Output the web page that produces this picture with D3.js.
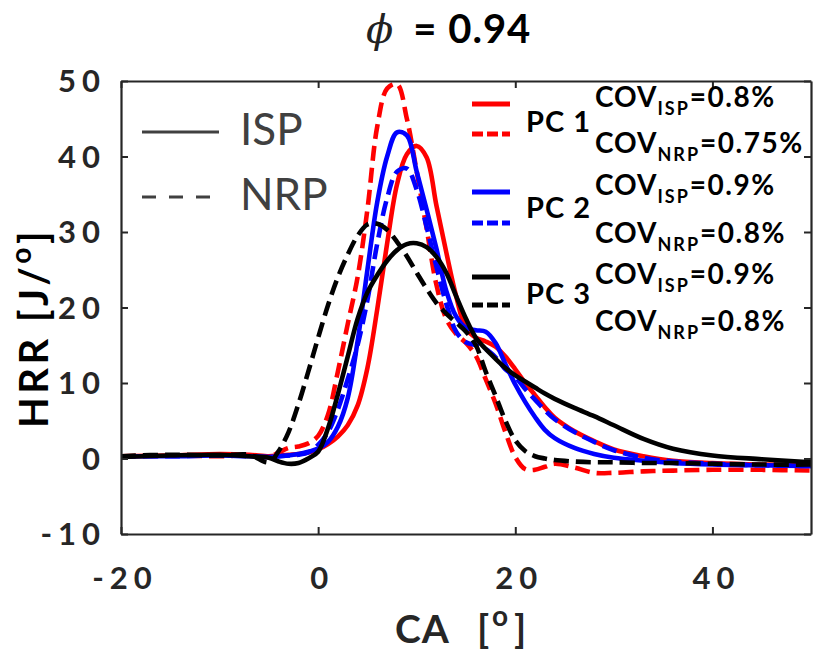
<!DOCTYPE html>
<html>
<head>
<meta charset="utf-8">
<script src="https://cdn.jsdelivr.net/npm/d3@7"></script>
<style>
  html, body { margin: 0; padding: 0; background: #fff; }
  svg { display: block; }
  text { font-family: Lato, "Open Sans", sans-serif; }
</style>
</head>
<body>
<svg id="chart" width="813" height="651"></svg>
<script>
// Crank angle grid [deg] shared by all heat-release curves
const caGrid = [-20, -15, -10, -7, -5, -4, -3, -2, -1, 0, 1, 2, 3, 4, 5, 6, 7, 8, 9, 10,
  11, 12, 13, 14, 15, 16, 17, 18, 19, 20, 21, 22, 23, 24, 26, 28, 30, 33, 36, 40, 45, 50];

// Heat release rate [J/deg], one array per case and strategy
const pc1Isp = [0.3, 0.4, 0.6, 0.5, 0.3, 0.4, 0.5, 0.6, 0.8, 1.2, 1.9, 2.9, 4.4, 7.0, 12.0, 19.8, 28.5, 36.3, 40.3, 41.4,
  39.9, 33.5, 27.3, 21.5, 17.2, 16.0, 15.5, 14.8, 13.5, 11.8, 10.0, 8.4, 6.8, 5.4, 3.6, 2.3, 1.2, 0.3, -0.3, -0.6, -0.8, -0.9];
const pc1Nrp = [0.3, 0.4, 0.3, 0.4, 0.2, 0.8, 1.4, 1.6, 2.0, 3.0, 5.8, 11.5, 17.8, 24, 33, 44, 49, 49.6, 45, 38,
  30.5, 23, 18.5, 16.5, 15.3, 13.6, 10.5, 7.3, 3.5, 0.2, -1.4, -1.5, -1.1, -0.7, -1.2, -1.9, -1.9, -1.7, -1.6, -1.5, -1.5, -1.6];
const pc2Isp = [0.3, 0.3, 0.4, 0.3, 0.2, 0.3, 0.4, 0.6, 0.9, 1.3, 2.2, 4.2, 8, 15.5, 25, 34, 40, 43.2, 42.8, 38,
  33, 27.8, 22.2, 18.8, 17.3, 17.0, 16.8, 15.3, 12.5, 9.8, 7.5, 5.5, 3.8, 2.7, 1.4, 0.6, 0.1, -0.3, -0.6, -0.8, -0.9, -1.0];
const pc2Nrp = [0.3, 0.3, 0.4, 0.3, 0.2, 0.3, 0.4, 0.5, 0.8, 1.8, 3.5, 6.5, 10.5, 15, 21, 28.5, 34.5, 38, 38.4, 35.6,
  30.7, 25.4, 20.5, 16.8, 15.4, 15.0, 14.5, 13.4, 11.8, 10.8, 9.2, 7.8, 6.4, 5.2, 3.5, 2.2, 1.1, 0.1, -0.4, -0.7, -0.9, -1.0];
const pc3Isp = [0.2, 0.4, 0.5, 0.3, 0.1, -0.4, -0.7, -0.6, 0.0, 0.9, 4.0, 8.5, 13.5, 18.5, 22, 24.3, 26.2, 27.6, 28.4, 28.5,
  28, 26.7, 24.6, 21.5, 18.5, 16.0, 14.5, 13.2, 12.0, 11.0, 10.2, 9.4, 8.6, 7.9, 6.7, 5.6, 4.4, 2.6, 1.3, 0.4, -0.1, -0.5];
const pc3Nrp = [0.3, 0.5, 0.4, 0.5, -0.5, 1.0, 3.5, 7.2, 11.5, 16, 20.3, 24, 27, 29.5, 31, 31.1, 30.3, 28.7, 26.8, 24.6,
  22.5, 20.6, 19.2, 18.0, 16.8, 15.0, 11.5, 8.3, 5.0, 2.4, 1.0, 0.3, 0.0, -0.2, -0.4, -0.5, -0.5, -0.6, -0.6, -0.7, -0.8, -0.8];

// Legend text
const caseLabels = ["PC 1", "PC 2", "PC 3"];
const covIsp = ["0.8%", "0.9%", "0.9%"];
const covNrp = ["0.75%", "0.8%", "0.8%"];
const caseColors = ["#ff0000", "#0000ff", "#000000"];

// Axis ticks
const xTicks = [-20, 0, 20, 40];
const yTicks = [-10, 0, 10, 20, 30, 40, 50];

const series = [
  { values: pc1Isp, color: caseColors[0], dashed: false },
  { values: pc1Nrp, color: caseColors[0], dashed: true },
  { values: pc2Isp, color: caseColors[1], dashed: false },
  { values: pc2Nrp, color: caseColors[1], dashed: true },
  { values: pc3Isp, color: caseColors[2], dashed: false },
  { values: pc3Nrp, color: caseColors[2], dashed: true }
];

const svg = d3.select("#chart");
const plot = { left: 121, right: 811, top: 81, bottom: 534 };
const axisColor = "#262626";

const x = d3.scaleLinear().domain([-20, 50]).range([plot.left, plot.right]);
const y = d3.scaleLinear().domain([-10, 50]).range([plot.bottom, plot.top]);

svg.append("defs").append("clipPath").attr("id", "plot-clip")
  .append("rect")
  .attr("x", plot.left).attr("y", plot.top)
  .attr("width", plot.right - plot.left).attr("height", plot.bottom - plot.top);

// Curves
const line = d3.line()
  .x((d, i) => x(caGrid[i]))
  .y(d => y(d))
  .curve(d3.curveCatmullRom.alpha(0.5));

const curves = svg.append("g").attr("clip-path", "url(#plot-clip)");
series.forEach(s => {
  curves.append("path")
    .attr("d", line(s.values))
    .attr("fill", "none")
    .attr("stroke", s.color)
    .attr("stroke-width", 4.6)
    .attr("stroke-linejoin", "round")
    .attr("stroke-dasharray", s.dashed ? "15,7" : null);
});

// Box axes with inward ticks on every side
const tickLen = 7;
const axes = svg.append("g");
const bottomAxis = d3.axisBottom(x).tickValues(xTicks).tickSizeInner(-tickLen).tickSizeOuter(0).tickFormat("");
const topAxis = d3.axisTop(x).tickValues(xTicks).tickSizeInner(-tickLen).tickSizeOuter(0).tickFormat("");
const leftAxis = d3.axisLeft(y).tickValues(yTicks).tickSizeInner(-tickLen).tickSizeOuter(0).tickFormat("");
const rightAxis = d3.axisRight(y).tickValues(yTicks).tickSizeInner(-tickLen).tickSizeOuter(0).tickFormat("");

axes.append("g").attr("transform", `translate(0,${plot.bottom})`).call(bottomAxis);
axes.append("g").attr("transform", `translate(0,${plot.top})`).call(topAxis);
axes.append("g").attr("transform", `translate(${plot.left},0)`).call(leftAxis);
axes.append("g").attr("transform", `translate(${plot.right},0)`).call(rightAxis);
axes.selectAll("path.domain").attr("stroke", axisColor).attr("stroke-width", 2.2);
axes.selectAll(".tick line").attr("stroke", axisColor).attr("stroke-width", 2);

// Tick labels (tracked digits)
const tickFont = { size: 31, weight: 700, spacing: 6 };
svg.append("g").selectAll("text").data(yTicks).join("text")
  .attr("x", 106)
  .attr("y", d => y(d) + 11)
  .attr("text-anchor", "end")
  .attr("font-size", tickFont.size)
  .attr("font-weight", tickFont.weight)
  .attr("letter-spacing", tickFont.spacing)
  .attr("fill", axisColor)
  .text(d => d);

svg.append("g").selectAll("text").data(xTicks).join("text")
  .attr("x", d => x(d) + 4)
  .attr("y", 589)
  .attr("text-anchor", "middle")
  .attr("font-size", tickFont.size)
  .attr("font-weight", tickFont.weight)
  .attr("letter-spacing", tickFont.spacing)
  .attr("fill", axisColor)
  .text(d => d);

// Axis titles
const xTitle = svg.append("text")
  .attr("y", 643)
  .attr("font-size", 39).attr("font-weight", 700).attr("fill", axisColor);
xTitle.append("tspan").attr("x", 395).attr("letter-spacing", 1).text("CA");
xTitle.append("tspan").attr("x", 477).text("[");
xTitle.append("tspan").attr("x", 492).attr("font-size", 28).attr("dy", -17).text("o");
xTitle.append("tspan").attr("x", 514).attr("dy", 17).text("]");

const yTitle = svg.append("text")
  .attr("transform", "translate(48,428) rotate(-90)")
  .attr("font-size", 40).attr("font-weight", 700).attr("fill", "#000")
  .attr("letter-spacing", 3.5);
yTitle.append("tspan").text("HRR [J/");
yTitle.append("tspan").attr("font-size", 28).attr("dy", -17).text("o");
yTitle.append("tspan").attr("dy", 17).text("]");

// Title
const title = svg.append("text").attr("x", 366).attr("y", 43);
title.append("tspan")
  .attr("font-family", "'DejaVu Serif', 'Liberation Serif', serif")
  .attr("font-style", "italic").attr("font-size", 40).attr("fill", "#222")
  .text("\u03d5");
title.append("tspan").attr("dx", 20)
  .attr("font-size", 40).attr("font-weight", 700).attr("fill", "#000")
  .attr("letter-spacing", 1)
  .text("= 0.94");

// Line-style legend (ISP solid, NRP dashed)
const styleLegend = svg.append("g");
[["ISP", false, 132, 145], ["NRP", true, 197, 210]].forEach(([label, dashed, ly, ty]) => {
  styleLegend.append("line")
    .attr("x1", 142).attr("x2", 219).attr("y1", ly).attr("y2", ly)
    .attr("stroke", "#404040").attr("stroke-width", 3)
    .attr("stroke-dasharray", dashed ? "14,13" : null);
  styleLegend.append("text")
    .attr("x", 240).attr("y", ty)
    .attr("font-family", "'Open Sans', sans-serif")
    .attr("font-size", 44).attr("fill", "#404040")
    .text(label);
});

// Case legend with COV values
const caseRows = [
  { solid: 104, dash: 134, label: 132, isp: 107, nrp: 153 },
  { solid: 192, dash: 223, label: 218, isp: 195, nrp: 243 },
  { solid: 277, dash: 305, label: 304, isp: 284, nrp: 331 }
];
const caseLegend = svg.append("g");
caseRows.forEach((r, i) => {
  caseLegend.append("line")
    .attr("x1", 472).attr("x2", 510).attr("y1", r.solid).attr("y2", r.solid)
    .attr("stroke", caseColors[i]).attr("stroke-width", 5);
  caseLegend.append("line")
    .attr("x1", 472).attr("x2", 510).attr("y1", r.dash).attr("y2", r.dash)
    .attr("stroke", caseColors[i]).attr("stroke-width", 5)
    .attr("stroke-dasharray", "11,4");
  caseLegend.append("text")
    .attr("x", 526).attr("y", r.label)
    .attr("font-size", 29).attr("font-weight", 700).attr("fill", "#000")
    .attr("letter-spacing", 1)
    .text(caseLabels[i]);
  [["ISP", covIsp[i], r.isp], ["NRP", covNrp[i], r.nrp]].forEach(([sub, val, by]) => {
    const t = caseLegend.append("text")
      .attr("x", 595).attr("y", by)
      .attr("font-size", 28).attr("font-weight", 700).attr("fill", "#000");
    t.append("tspan").attr("letter-spacing", 1).text("COV");
    t.append("tspan").attr("font-size", 18).attr("dy", 8).attr("letter-spacing", 2).text(sub);
    t.append("tspan").attr("dy", -8).attr("letter-spacing", 1.5).text("=" + val);
  });
});
</script>
</body>
</html>
